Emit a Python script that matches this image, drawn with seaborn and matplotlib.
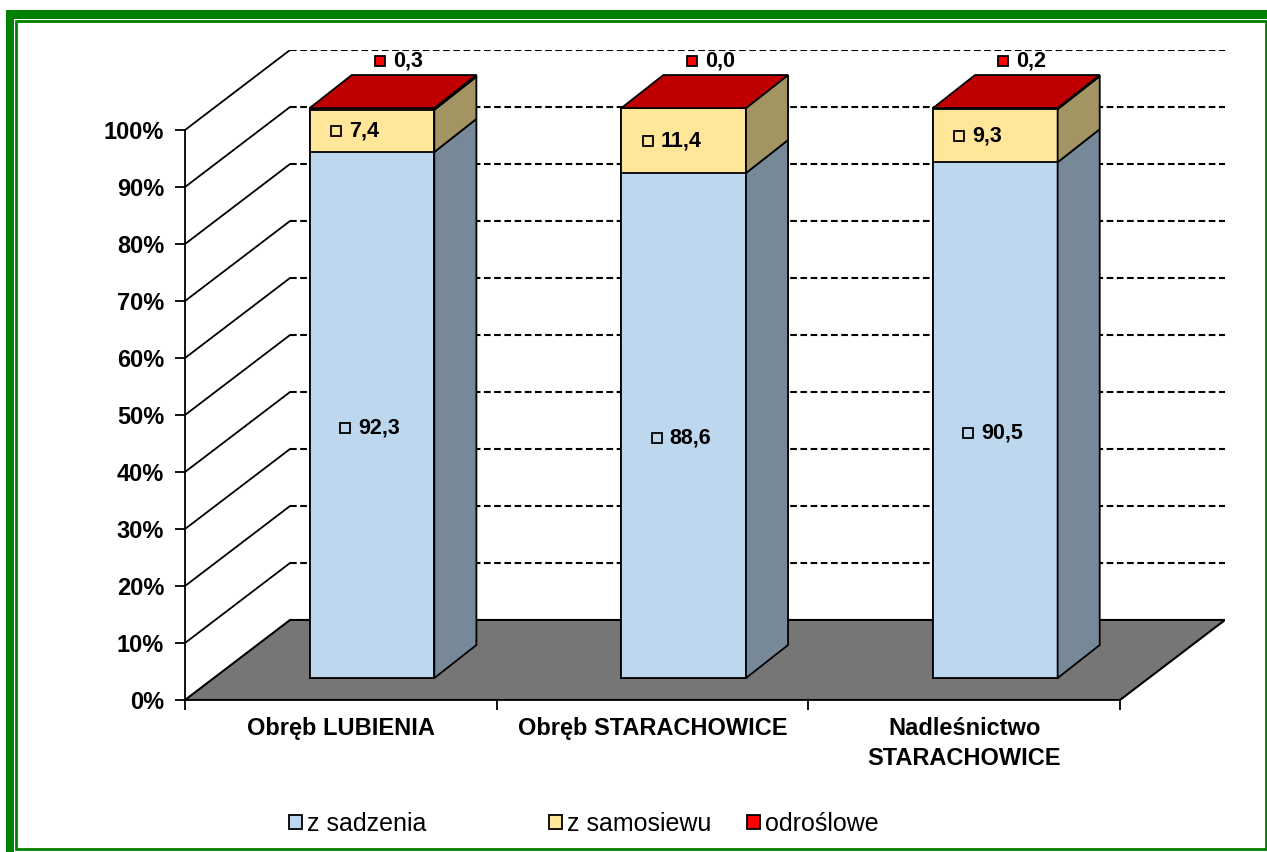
import numpy as np
import pandas as pd
import seaborn as sns
import matplotlib.pyplot as plt
from matplotlib.patches import Polygon, Rectangle, Patch
from matplotlib.transforms import offset_copy

# data
categories = ["Obręb LUBIENIA", "Obręb STARACHOWICE", "Nadleśnictwo\nSTARACHOWICE"]
series_names = ["z sadzenia", "z samosiewu", "odroślowe"]
z_sadzenia = [92.3, 88.6, 90.5]
z_samosiewu = [7.4, 11.4, 9.3]
odroslowe = [0.3, 0.0, 0.2]
y_ticks = list(range(0, 101, 10))

front_colors = ["#BDD7EE", "#FFE699", "#FF0000"]
side_colors = ["#778899", "#A39464", "#A00000"]
top_color = "#C00000"
green = "#008000"

df = pd.DataFrame({"kategoria": categories,
                   "z sadzenia": z_sadzenia,
                   "z samosiewu": z_samosiewu,
                   "odroślowe": odroslowe})
cum = df[series_names].cumsum(axis=1)
cum.insert(0, "kategoria", df["kategoria"])

sns.set_style("white")
plt.rcParams["font.family"] = ["Liberation Sans", "DejaVu Sans"]
plt.rcParams["text.color"] = "black"
plt.rcParams["xtick.color"] = "black"
plt.rcParams["ytick.color"] = "black"

W, H = 1267, 852
fig = plt.figure(figsize=(W / 100, H / 100), dpi=100)
ax = fig.add_axes([185 / W, (H - 700) / H, 1040 / W, 650 / H])

# pseudo 3D geometry (data units)
DX, DY = 0.337, 14.04     # depth of the floor
fdx, fdy = 0.10, 3.85     # front face of bars
bdx, bdy = 0.135, 5.8     # depth of bars
bar_w = 0.4

# floor
ax.add_patch(Polygon([(-0.5, 0), (-0.5 + DX, DY), (2.5 + DX, DY), (2.5, 0)],
                     closed=True, fc="#767676", ec="black", lw=1.5, zorder=1))

# back wall grid + left wall lines
for v in y_ticks[1:]:
    ax.plot([-0.5 + DX, 2.5 + DX], [v + DY, v + DY], color="black", lw=1.5,
            ls=(0, (3.2, 1.7)), zorder=0.5)
    ax.plot([-0.5, -0.5 + DX], [v, v + DY], color="black", lw=1.3, zorder=0.5)

# front faces: cumulative totals, tallest first
for k in reversed(range(3)):
    n0 = len(ax.patches)
    sns.barplot(data=cum, x="kategoria", y=series_names[k], color=front_colors[k],
                width=bar_w, saturation=1, edgecolor="black", linewidth=1.3,
                errorbar=None, ax=ax, zorder=3)
    for p in ax.patches[n0:]:
        p.set_x(p.get_x() + fdx)
        p.set_y(p.get_y() + fdy)

# side and top faces
for i in range(len(categories)):
    xl = i - bar_w / 2 + fdx
    xr = i + bar_w / 2 + fdx
    bottom = 0
    for k, name in enumerate(series_names):
        top = cum.loc[i, name]
        if top > bottom:
            ax.add_patch(Polygon([(xr, bottom + fdy), (xr + bdx, bottom + fdy + bdy),
                                  (xr + bdx, top + fdy + bdy), (xr, top + fdy)],
                                 closed=True, fc=side_colors[k], ec="black", lw=1.3, zorder=3))
        bottom = top
    T = bottom + fdy
    ax.add_patch(Polygon([(xl, T), (xl + bdx, T + bdy), (xr + bdx, T + bdy), (xr, T)],
                         closed=True, fc=top_color, ec="black", lw=1.3, zorder=4))


# value labels: small square key + number
def label(x, y, dx_px, text, color):
    tm = offset_copy(ax.transData, fig=fig, x=dx_px - 28, y=0, units="dots")
    tt = offset_copy(ax.transData, fig=fig, x=dx_px - 15, y=0, units="dots")
    ax.plot([x], [y], marker="s", ms=6.5, mfc=color, mec="black", mew=1.3,
            transform=tm, zorder=6, clip_on=False)
    ax.text(x, y, text, transform=tt, ha="left", va="center", fontsize=15.5,
            fontweight="bold", zorder=6)


for i in range(len(categories)):
    cx = i + fdx
    b = z_sadzenia[i]
    s = z_samosiewu[i]
    o = odroslowe[i]
    label(cx, b / 2 + fdy - 2.2, 1, f"{b:.1f}".replace(".", ","), front_colors[0])
    label(cx, b + s / 2 + fdy, -8, f"{s:.1f}".replace(".", ","), front_colors[1])
    label(cx, 100 + fdy + 8.3, 36, f"{o:.1f}".replace(".", ","), front_colors[2])

ax.set_xlim(-0.5, 2.5 + DX)
ax.set_ylim(0, 100 + DY)
ax.set_xlabel("")
ax.set_ylabel("")

for side in ["top", "right"]:
    ax.spines[side].set_visible(False)
ax.spines["left"].set_bounds(0, 100)
ax.spines["bottom"].set_bounds(-0.5, 2.5)
for side in ["left", "bottom"]:
    ax.spines[side].set_color("black")
    ax.spines[side].set_linewidth(1.3)

ax.set_yticks(y_ticks, [f"{v}%" for v in y_ticks], fontsize=17, fontweight="bold")
ax.set_xticks(range(len(categories)), categories, fontsize=17, fontweight="bold")
ax.set_xticks([-0.5, 0.5, 1.5, 2.5], minor=True)
ax.tick_params(axis="y", length=7, width=1.3, pad=8, colors="black", left=True)
ax.tick_params(axis="x", which="major", length=0, pad=12, colors="black")
ax.tick_params(axis="x", which="minor", length=7, width=1.3, bottom=True)
ax.get_xticklabels()[2].set_linespacing(1.4)

# legend entries
for name, col, xpx in zip(series_names, front_colors, [289, 549, 747]):
    fig.legend(handles=[Patch(fc=col, ec="black", lw=1.3, label=name)],
               loc="center left", bbox_to_anchor=(xpx / W, (H - 824) / H),
               frameon=False, fontsize=18, handlelength=0.52, handleheight=0.52,
               handletextpad=0.2, borderpad=0, borderaxespad=0, labelcolor="black")

# green frame
fig.add_artist(Rectangle((6 / W, 1 - 19 / H), 1 - 6 / W, 9 / H, transform=fig.transFigure,
                         fc=green, ec="none"))
fig.add_artist(Rectangle((6 / W, 0), 8 / W, 1 - 10 / H, transform=fig.transFigure,
                         fc=green, ec="none"))
fig.add_artist(Rectangle((16 / W, 1 - 849 / H), 1250 / W, 828 / H, transform=fig.transFigure,
                         fill=False, ec=green, lw=2))

fig.savefig("out.png", dpi=100)
